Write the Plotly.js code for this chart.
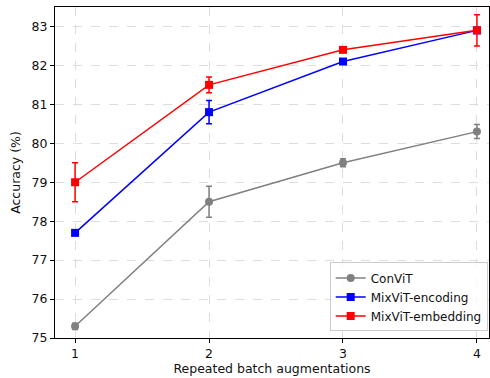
<!DOCTYPE html>
<html><head><meta charset="utf-8">
<script src="https://cdn.plot.ly/plotly-3.0.1.min.js"></script>
<style>body{margin:0;padding:0;background:#fff}#chart{width:490px;height:378px}</style>
</head><body><div id="chart"></div>
<script>
const xVals = [1, 2, 3, 4];
const convit = [75.3, 78.5, 79.5, 80.3];
const convitErr = [0.08, 0.4, 0.1, 0.18];
const encoding = [77.7, 80.8, 82.1, 82.9];
const encodingErr = [0.05, 0.3, 0.05, 0.05];
const embedding = [79.0, 81.5, 82.4, 82.9];
const embeddingErr = [0.5, 0.2, 0.05, 0.4];
const names = ['ConViT', 'MixViT-encoding', 'MixViT-embedding'];
const colors = ['#808080', '#0000ff', '#ff0000'];
const symbols = ['circle', 'square', 'square'];
const ys = [convit, encoding, embedding];
const errs = [convitErr, encodingErr, embeddingErr];

const traces = ys.map((y, i) => ({
  x: xVals, y: y, name: names[i], type: 'scatter', mode: 'lines+markers',
  line: {color: colors[i], width: 1.5},
  marker: {color: colors[i], symbol: symbols[i], size: 8},
  error_y: {type: 'data', array: errs[i], visible: true, color: colors[i], thickness: 1.5, width: 3}
}));

const font = {family: 'DejaVu Sans, sans-serif', size: 12.5, color: '#111'};
const layout = {
  width: 490, height: 378,
  margin: {l: 55, r: 1, t: 7, b: 40},
  paper_bgcolor: '#fff', plot_bgcolor: '#fff',
  font: font,
  showlegend: true,
  legend: {x: 0.997, y: 0.02, xanchor: 'right', yanchor: 'bottom',
    bgcolor: 'rgba(255,255,255,0.8)', bordercolor: '#cccccc', borderwidth: 1,
    font: {family: 'DejaVu Sans, sans-serif', size: 12, color: '#111'}, tracegroupgap: 0, itemwidth: 30},
  xaxis: {
    range: [0.85, 4.09], tickvals: xVals, ticktext: ['1','2','3','4'],
    showgrid: true, gridcolor: '#dddddd', griddash: 'dash', gridwidth: 1,
    zeroline: false, showline: true, linecolor: '#000', linewidth: 1, mirror: true,
    ticks: 'outside', ticklen: 4, tickcolor: '#000', tickfont: font,
    title: {text: 'Repeated batch augmentations', font: font, standoff: 4}
  },
  yaxis: {
    range: [75, 83.5], tickvals: [75,76,77,78,79,80,81,82,83],
    showgrid: true, gridcolor: '#dddddd', griddash: 'dash', gridwidth: 1,
    zeroline: false, showline: true, linecolor: '#000', linewidth: 1, mirror: true,
    ticks: 'outside', ticklen: 4, tickcolor: '#000', tickfont: font,
    title: {text: 'Accuracy (%)', font: font, standoff: 8}
  }
};
Plotly.newPlot('chart', traces, layout, {displayModeBar: false, staticPlot: true});
</script></body></html>
